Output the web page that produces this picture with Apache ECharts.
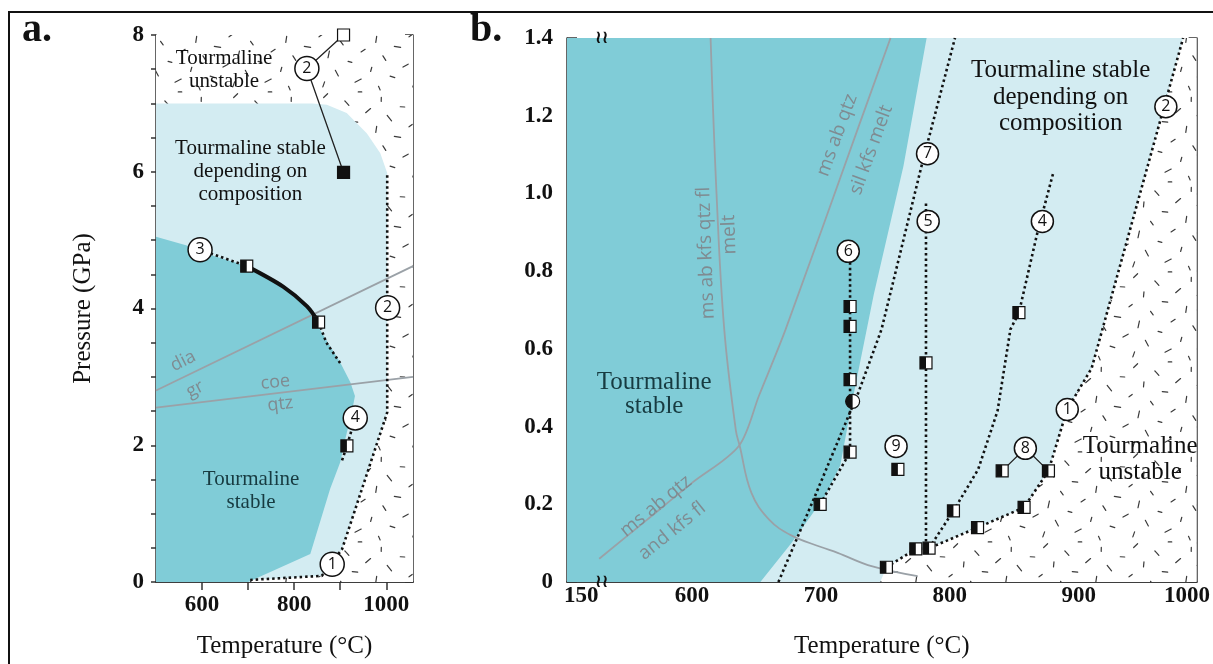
<!DOCTYPE html>
<html><head><meta charset="utf-8">
<script src="https://cdn.jsdelivr.net/npm/echarts@6/dist/echarts.min.js"></script>
<style>html,body{margin:0;padding:0;background:#fff}#c{width:1213px;height:664px}</style>
</head><body><div id="c"></div>
<script>
// ---------- Panel a data (T in °C, P in GPa) ----------
const aXTicks = [600, 700, 800, 900, 1000];
const aXLabels = [600, 800, 1000];
const aYTicks = [0,0.5,1,1.5,2,2.5,3,3.5,4,4.5,5,5.5,6,6.5,7,7.5,8];
const aYLabels = [0, 2, 4, 6, 8];
const aLightZone = [[500,0],[704,0],[704,0.03],[860,0.09],[904,0.48],[1002,2.48],[1002,5.98],[987,6.27],[958,6.56],[914,6.86],[871,6.98],[840,7.0],[500,7.0]];
const aStableZone = [[500,0],[700,0],[835,0.41],[878,1.36],[900,1.75],[911,2.09],[925,2.48],[932,2.72],[922,2.92],[900,3.21],[856,3.69],[853,3.8],[828,4.03],[776,4.32],[697,4.62],[624,4.77],[567,4.92],[500,5.05]];
const aDiaGr = [[500,2.8],[1058,4.62]];
const aCoeQtz = [[500,2.55],[1058,3.0]];
const aDotted12 = [[1002,5.95],[1002,2.48],[904,0.48],[860,0.09],[704,0.03]];
const aDotted3a = [[596,4.86],[697,4.62]];
const aDotted3b = [[853,3.8],[870,3.5],[900,3.2]];
const aDotted4 = [[904,1.78],[914.5,1.99],[932.6,2.40]];
const aCurve3 = [[697,4.62],[776,4.32],[828,4.03],[853,3.8]];
const aLink2 = [[907.2,8.0],[827.6,7.51],[907.2,5.99]];
const aSquares = [[907.2,8.0,'open'],[907.2,5.99,'full'],[697,4.62,'half'],[853,3.8,'half'],[914.5,1.99,'half']];
const aCircles = [[827.6,7.51,'2'],[595.7,4.86,'3'],[1002.9,4.01,'2'],[932.6,2.40,'4'],[882.6,0.26,'1']];
const aRegionText = [[647.8,7.49,'Tourmaline\nunstable'],[705,6.0,'Tourmaline stable\ndepending on\ncomposition']];
const aStableText = [[706.5,1.336,'Tourmaline\nstable']];
const aPhaseText = [[559,3.23,'dia'],[585,2.82,'gr'],[759,2.92,'coe'],[770,2.6,'qtz']];
const aPhaseRot = [27,27,6,6];

// ---------- Panel b data ----------
const bXTicks = [550,600,650,700,750,800,850,900,950];
const bXLabelVals = [514,600,700,800,900,984];
const bXLabelText = ['150','600','700','800','900','1000'];
const bYTicks = [0,0.1,0.2,0.3,0.4,0.5,0.6,0.7,0.8,0.9,1.0,1.1,1.2,1.3,1.4];
const bYLabels = [0,0.2,0.4,0.6,0.8,1.0,1.2,1.4];
const bLightZone = [[503,0],[746,0],[750.8,0.038],[773.6,0.085],[783.9,0.087],[821.5,0.14],[857.6,0.192],[876.5,0.286],[891,0.444],[910,0.55],[981,1.4],[503,1.4]];
const bStableZone = [[503,0],[653,0],[677,0.1],[703,0.22],[715,0.3],[724,0.46],[741,0.74],[764,1.07],[782,1.4],[503,1.4]];
const bMeltCurve = [[614.4,1.4],[619,1.0],[625,0.65],[634,0.39],[637,0.35],[646,0.23],[660,0.16],[677,0.12],[700,0.09],[713,0.075],[740,0.04],[775,0.015]];
const bSilLine = [[528,0.06],[565,0.16],[600,0.255],[636.3,0.35],[652,0.48],[672.6,0.65],[729,1.17],[754,1.4]];
const bDotted12 = [[750.8,0.038],[773.6,0.085],[783.9,0.087],[821.5,0.14],[857.6,0.192],[876.5,0.286],[891,0.444],[910,0.55],[981,1.4]];
const bDotted4 = [[783.9,0.087],[802.8,0.183],[822,0.29],[837,0.44],[847,0.65],[853.6,0.693],[868,0.9],[880,1.05]];
const bDotted5 = [[781.5,0.09],[781.5,0.98]];
const bDotted6 = [[699.4,0.2],[722.6,0.334],[722.6,0.84]];
const bDotted7 = [[667,0],[695.5,0.222],[722.5,0.436],[729,0.487],[747,0.65],[778,1.07],[804,1.4]];
const bLink8 = [[840.6,0.286],[858.6,0.344],[876.5,0.286]];
const bSquares = [[699.4,0.2],[722.6,0.334],[722.6,0.521],[722.6,0.658],[722.6,0.709],[781.5,0.564],[853.6,0.693],[759.7,0.29],[840.6,0.286],[876.5,0.286],[750.8,0.038],[773.6,0.085],[783.9,0.087],[821.5,0.14],[857.6,0.192],[802.8,0.183]].map(d=>[d[0],d[1],'half']);
const bHalfCircle = [[724.6,0.465]];
const bCircles = [[721.2,0.851,'6'],[782.7,1.102,'7'],[783.2,0.928,'5'],[871.8,0.928,'4'],[967.6,1.223,'2'],[758.3,0.349,'9'],[858.6,0.344,'8'],[891.1,0.444,'1']];
const bStableText = [[570.7,0.483,'Tourmaline\nstable']];
const bRegionText = [[886,1.248,'Tourmaline stable\ndepending on\ncomposition'],[947.7,0.316,'Tourmaline\nunstable']];
const bPhaseText = [[610.8,0.847,'ms ab kfs qtz fl'],[629,0.894,'melt'],[712.6,1.15,'ms ab qtz'],[739,1.112,'sil kfs melt'],[572,0.195,'ms ab qtz'],[584.6,0.131,'and kfs fl']];
const bPhaseRot = [92,92,70,70,39,39];
const bBreakMarks = [[530,1.4],[530,0]];

// ---------- styles ----------
const TEAL = '#80ccd7', LIGHT = '#d3ecf2', INK = '#111', GRAYLINE = '#9aa1a7', GRAYTXT = '#7f8b91';
const SERIF = '"Liberation Serif", "DejaVu Serif", serif';
const SANS = '"Open Sans", "Liberation Sans", sans-serif';

// stipple texture (decorative)
function stipple(){
  const s = 90, cv = document.createElement('canvas'); cv.width = s; cv.height = s;
  const g = cv.getContext('2d'); g.fillStyle = '#fff'; g.fillRect(0,0,s,s);
  g.strokeStyle = '#3a3a3a'; g.lineWidth = 1.2; g.lineCap = 'round';
  const N = 24;
  for (let i = 0; i < N; i++) {
    const x = ((i * 0.6180339) % 1) * s, y = ((i + 0.5) / N) * s;
    const ang = ((i * 0.7548776) % 1) * Math.PI, len = 3.5 + ((i * 0.5698) % 1) * 3.5;
    const dx = Math.cos(ang) * len / 2, dy = Math.sin(ang) * len / 2;
    for (const ox of [-s, 0, s]) for (const oy of [-s, 0, s]) {
      g.beginPath(); g.moveTo(x - dx + ox, y - dy + oy); g.lineTo(x + dx + ox, y + dy + oy); g.stroke();
    }
  }
  return cv;
}
const STIP = { image: stipple(), repeat: 'repeat' };

function polygon(ax, pts, fill) {
  return { type: 'custom', xAxisIndex: ax, yAxisIndex: ax, silent: true, clip: true, z: 1, data: [[pts[0][0], pts[0][1]]],
    renderItem: (p, api) => ({ type: 'polygon', shape: { points: pts.map(q => api.coord(q)) }, style: { fill } }) };
}
function line(ax, pts, opt) {
  return Object.assign({ type: 'line', xAxisIndex: ax, yAxisIndex: ax, data: pts, showSymbol: false, symbol: 'none', silent: true, z: 3,
    lineStyle: { color: INK, width: 2.6, type: [2.5, 3] } }, opt || {});
}
function squares(ax, arr, size) {
  return { type: 'custom', xAxisIndex: ax, yAxisIndex: ax, silent: true, z: 5, data: arr.map(d => [d[0], d[1]]),
    renderItem: (p, api) => {
      const c = api.coord([api.value(0), api.value(1)]), k = arr[p.dataIndex][2], h = size / 2;
      const ch = [{ type: 'rect', shape: { x: c[0]-h, y: c[1]-h, width: size, height: size }, style: { fill: k === 'full' ? INK : '#fff', stroke: INK, lineWidth: 1.2 } }];
      if (k === 'half') ch.push({ type: 'rect', shape: { x: c[0]-h, y: c[1]-h, width: h, height: size }, style: { fill: INK } });
      return { type: 'group', children: ch };
    } };
}
function halfCircles(ax, arr, r) {
  return { type: 'custom', xAxisIndex: ax, yAxisIndex: ax, silent: true, z: 5, data: arr,
    renderItem: (p, api) => { const c = api.coord([api.value(0), api.value(1)]);
      return { type: 'group', children: [
        { type: 'circle', shape: { cx: c[0], cy: c[1], r }, style: { fill: '#fff', stroke: INK, lineWidth: 1.2 } },
        { type: 'sector', shape: { cx: c[0], cy: c[1], r0: 0, r, startAngle: Math.PI/2, endAngle: Math.PI*1.5, clockwise: true }, style: { fill: INK } } ] }; } };
}
function circles(ax, arr, size) {
  return { type: 'scatter', xAxisIndex: ax, yAxisIndex: ax, silent: true, z: 6, data: arr, symbol: 'circle', symbolSize: size,
    itemStyle: { color: '#fff', borderColor: INK, borderWidth: 1.5, opacity: 1 },
    label: { show: true, position: 'inside', formatter: p => p.value[2], color: INK, fontSize: 16, fontFamily: SANS } };
}
function texts(ax, arr, st, rots) {
  return { type: 'custom', xAxisIndex: ax, yAxisIndex: ax, silent: true, clip: false, z: 7, data: arr.map(d => [d[0], d[1]]),
    renderItem: (p, api) => { const c = api.coord([api.value(0), api.value(1)]);
      return { type: 'text', x: c[0], y: c[1], rotation: (rots ? rots[p.dataIndex] : 0) * Math.PI / 180,
        style: Object.assign({ text: arr[p.dataIndex][2], align: 'center', verticalAlign: 'middle' }, st) }; } };
}

const axLine = { lineStyle: { color: '#333', width: 1.5 } };
const tickLbl = { fontFamily: SERIF, fontWeight: 'bold', fontSize: 23, color: INK };
const nameSt = { fontFamily: SERIF, fontSize: 25, color: INK };

const option = {
  animation: false,
  grid: [
    { left: 156, top: 35, width: 257, height: 548 },
    { left: 567, top: 38, width: 635, height: 545 }
  ],
  xAxis: [
    { gridIndex: 0, type: 'value', min: 500, max: 1058, position: 'bottom', axisLine: axLine, splitLine: { show: false },
      axisTick: { inside: true, length: 8, customValues: aXTicks, lineStyle: { color: '#333', width: 1.5 } },
      axisLabel: Object.assign({ customValues: aXLabels, margin: 12, formatter: v => String(v) }, tickLbl),
      name: 'Temperature (°C)', nameLocation: 'middle', nameGap: 52, nameTextStyle: nameSt },
    { gridIndex: 1, type: 'value', min: 503, max: 991.5, position: 'bottom', axisLine: axLine, splitLine: { show: false },
      axisTick: { inside: true, length: 10, customValues: bXTicks, lineStyle: { color: '#333', width: 1.5 } },
      axisLabel: Object.assign({ customValues: bXLabelVals, margin: 3, formatter: v => bXLabelText[bXLabelVals.indexOf(v)] }, tickLbl),
      name: 'Temperature (°C)', nameLocation: 'middle', nameGap: 52, nameTextStyle: nameSt },
    { gridIndex: 0, type: 'value', min: 500, max: 1058, position: 'top', axisLine: axLine, splitLine: { show: false },
      axisTick: { inside: true, length: 8, customValues: aXTicks, lineStyle: { color: '#333', width: 1.5 } }, axisLabel: { show: false } },
    { gridIndex: 1, type: 'value', min: 503, max: 991.5, position: 'top', axisLine: axLine, splitLine: { show: false },
      axisTick: { show: false }, axisLabel: { show: false } }
  ],
  yAxis: [
    { gridIndex: 0, type: 'value', min: 0, max: 8, position: 'left', axisLine: axLine, splitLine: { show: false },
      axisTick: { inside: false, length: 5, customValues: aYTicks, lineStyle: { color: '#333', width: 1.5 } },
      axisLabel: Object.assign({ customValues: aYLabels, margin: 12 }, tickLbl),
      name: 'Pressure (GPa)', nameLocation: 'middle', nameGap: 60, nameTextStyle: nameSt },
    { gridIndex: 1, type: 'value', min: 0, max: 1.4, position: 'left', axisLine: axLine, splitLine: { show: false },
      axisTick: { inside: true, length: 10, customValues: bYTicks, lineStyle: { color: '#333', width: 1.5 } },
      axisLabel: Object.assign({ customValues: bYLabels, margin: 14, formatter: v => v === 0 ? '0' : v.toFixed(1) }, tickLbl) },
    { gridIndex: 0, type: 'value', min: 0, max: 8, position: 'right', axisLine: axLine, splitLine: { show: false },
      axisTick: { inside: true, length: 8, customValues: aYTicks, lineStyle: { color: '#333', width: 1.5 } }, axisLabel: { show: false } },
    { gridIndex: 1, type: 'value', min: 0, max: 1.4, position: 'right', axisLine: axLine, splitLine: { show: false },
      axisTick: { inside: true, length: 8, customValues: bYTicks, lineStyle: { color: '#333', width: 1.5 } }, axisLabel: { show: false } }
  ],
  graphic: [
    { type: 'rect', shape: { x: 9, y: 12, width: 1260, height: 720 }, style: { fill: 'none', stroke: INK, lineWidth: 2 }, z: 100 },
    { type: 'text', x: 22, y: 31, style: { text: 'a.', font: 'bold 40px "Liberation Serif", serif', fill: INK, verticalAlign: 'middle' }, z: 100 },
    { type: 'text', x: 470, y: 31, style: { text: 'b.', font: 'bold 40px "Liberation Serif", serif', fill: INK, verticalAlign: 'middle' }, z: 100 }
  ],
  series: [
    // panel a
    polygon(0, [[500,0],[1058,0],[1058,8],[500,8]], STIP),
    polygon(0, aLightZone, LIGHT),
    polygon(0, aStableZone, TEAL),
    line(0, aDiaGr, { z: 2, lineStyle: { color: GRAYLINE, width: 1.8 } }),
    line(0, aCoeQtz, { z: 2, lineStyle: { color: GRAYLINE, width: 1.8 } }),
    line(0, aDotted12), line(0, aDotted3a), line(0, aDotted3b), line(0, aDotted4),
    line(0, aCurve3, { smooth: 0.3, lineStyle: { color: INK, width: 4 } }),
    line(0, aLink2, { lineStyle: { color: '#222', width: 1.3 } }),
    squares(0, aSquares, 12),
    circles(0, aCircles, 24),
    texts(0, aPhaseText, { fontFamily: SANS, fontSize: 18, fill: GRAYTXT }, aPhaseRot),
    texts(0, aRegionText, { fontFamily: SERIF, fontSize: 21, lineHeight: 23, fill: INK }),
    texts(0, aStableText, { fontFamily: SERIF, fontSize: 21, lineHeight: 23, fill: '#173b41' }),
    // panel b
    polygon(1, [[503,0],[991.5,0],[991.5,1.4],[503,1.4]], STIP),
    polygon(1, bLightZone, LIGHT),
    polygon(1, bStableZone, TEAL),
    line(1, bMeltCurve, { z: 2, smooth: 0.4, lineStyle: { color: GRAYLINE, width: 1.8 } }),
    line(1, bSilLine, { z: 2, smooth: 0.3, lineStyle: { color: GRAYLINE, width: 1.8 } }),
    line(1, bDotted12), line(1, bDotted4), line(1, bDotted5), line(1, bDotted6), line(1, bDotted7),
    line(1, bLink8, { lineStyle: { color: '#222', width: 1.3 } }),
    squares(1, bSquares, 12),
    halfCircles(1, bHalfCircle, 7),
    circles(1, bCircles, 22),
    texts(1, bPhaseText, { fontFamily: SANS, fontSize: 19, fill: GRAYTXT }, bPhaseRot),
    texts(1, bStableText, { fontFamily: SERIF, fontSize: 25, lineHeight: 24, fill: '#173b41' }),
    texts(1, bRegionText, { fontFamily: SERIF, fontSize: 25, lineHeight: 26.5, fill: INK }),
    texts(1, bBreakMarks.map(d => [d[0], d[1], '≀≀']), { fontFamily: '"DejaVu Sans", sans-serif', fontSize: 18, fill: INK, fontWeight: 'bold' })
  ]
};
const chart = echarts.init(document.getElementById('c'), null, { renderer: 'canvas' });
chart.setOption(option);
</script></body></html>
